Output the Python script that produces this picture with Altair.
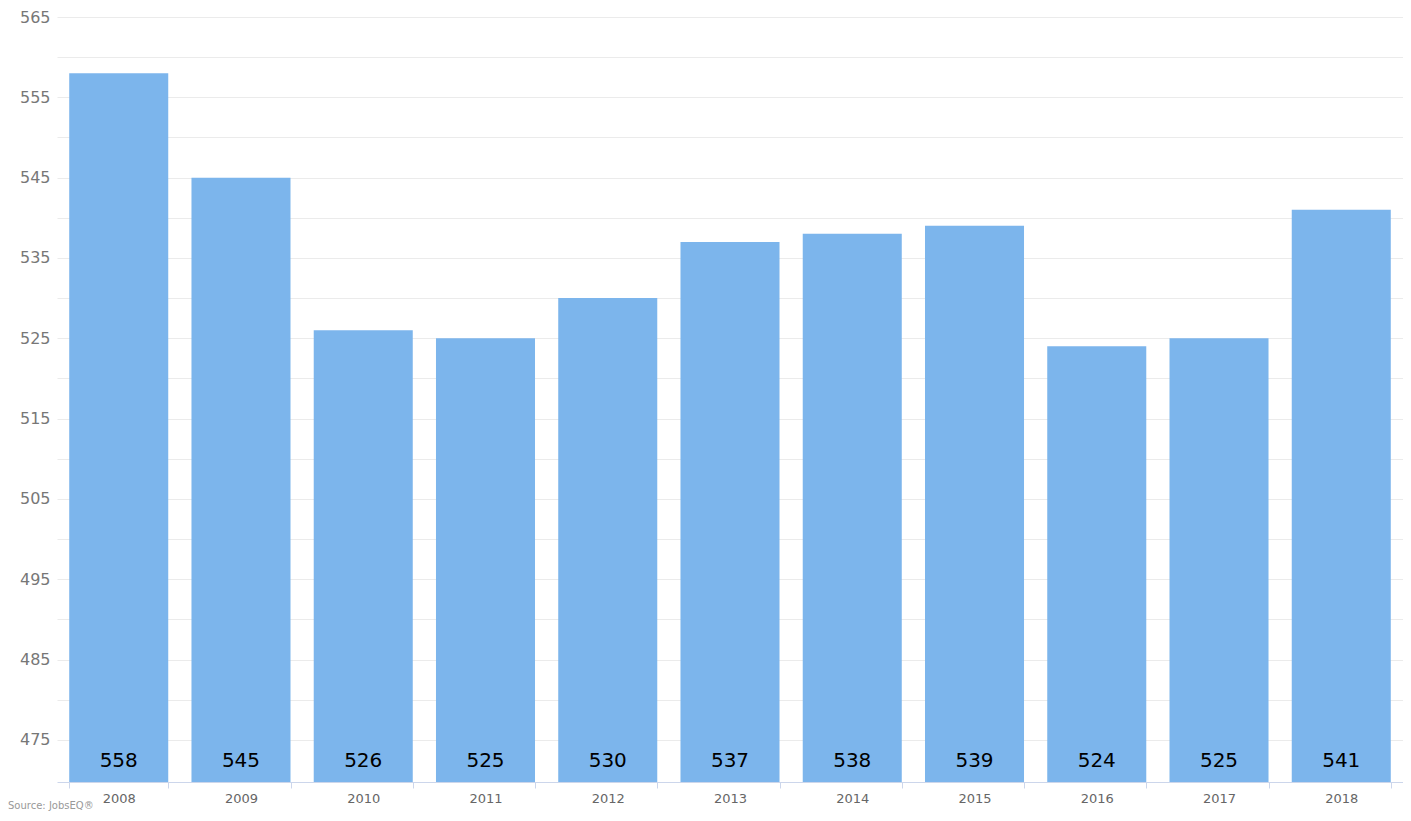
import altair as alt
import pandas as pd

years = ["2008", "2009", "2010", "2011", "2012", "2013", "2014", "2015", "2016", "2017", "2018"]
values = [558, 545, 526, 525, 530, 537, 538, 539, 524, 525, 541]
grid_values = list(range(475, 566, 5))
source_text = ["Source: JobsEQ®"]

Y_MIN = 469.75
Y_MAX = 565
W = 1346
H = 765

df = pd.DataFrame({"year": years, "value": values})
src = pd.DataFrame({"t": source_text})

font = "Lucida Grande, DejaVu Sans, sans-serif"

x = alt.X("year:N", sort=years, title=None,
          scale=alt.Scale(paddingInner=0.19, paddingOuter=0.1),
          axis=alt.Axis(labelAngle=0, labelFont=font, labelFontSize=13, labelColor="#666666",
                        domainColor="#ccd6eb", tickColor="#ccd6eb", tickSize=6, tickBand="extent",
                        labelPadding=4, grid=False))

bars = alt.Chart(df).mark_bar(color="#7cb5ec").encode(
    x=x,
    y=alt.Y("value:Q", title=None,
            scale=alt.Scale(domain=[Y_MIN, Y_MAX], zero=False, nice=False),
            axis=alt.Axis(values=grid_values,
                          labelExpr="datum.value % 10 == 5 ? datum.label : ''",
                          labelFont=font, labelFontSize=16, labelColor="#777777",
                          ticks=False, domain=False, gridColor="#ebebeb", labelPadding=7)),
    y2=alt.datum(Y_MIN),
)

labels = alt.Chart(df).mark_text(font=font, fontSize=20, color="#000000", baseline="middle").encode(
    x=alt.X("year:N", sort=years),
    y=alt.value(H - 21),
    text="value:Q",
)

source = alt.Chart(src).mark_text(font=font, fontSize=10, color="#999999", align="left",
                                  baseline="alphabetic").encode(
    x=alt.value(-49),
    y=alt.value(H + 27),
    text="t:N",
)

chart = alt.layer(bars, labels, source).properties(
    width=W, height=H,
    autosize=alt.AutoSizeParams(type="none"),
    padding={"left": 49, "top": 9, "right": 0, "bottom": 29},
).configure_view(stroke=None)

chart.save("out.html", embed_options={"renderer": "svg", "actions": False})
